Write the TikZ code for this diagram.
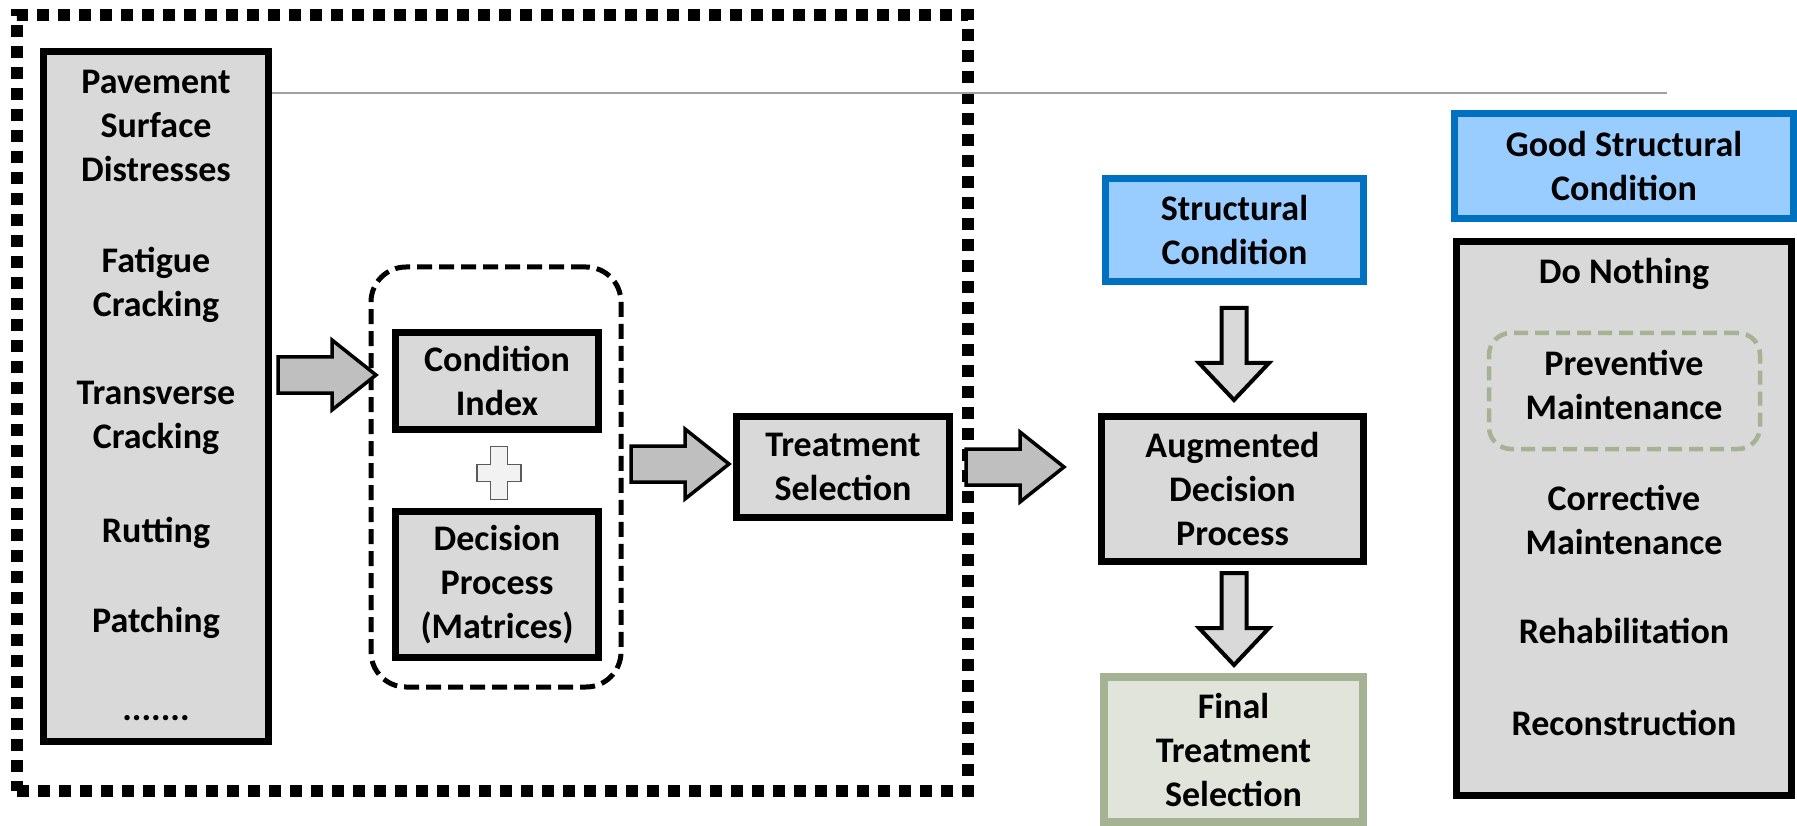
\documentclass[tikz,border=0pt]{standalone}
\usepackage{fontspec}
\setmainfont{Carlito}
\definecolor{boxgray}{RGB}{217,217,217}
\definecolor{arrgray}{RGB}{191,191,191}
\definecolor{lblue}{RGB}{153,204,255}
\definecolor{dblue}{RGB}{0,112,192}
\definecolor{gfill}{RGB}{224,228,218}
\definecolor{gborder}{RGB}{166,178,148}
\definecolor{lgray}{RGB}{160,160,160}
\definecolor{plusline}{RGB}{90,90,90}
\definecolor{plusfill}{RGB}{242,242,242}
\tikzset{
  txt/.style={font=\fontsize{36}{44}\selectfont\bfseries, align=center, inner sep=0pt},
  graybox/.style={txt, draw=black, line width=7pt, fill=boxgray, rectangle},
  bluebox/.style={txt, draw=dblue, line width=7pt, fill=lblue, rectangle},
  greenbox/.style={txt, draw=gborder, line width=8pt, fill=gfill, rectangle},
  grpbox/.style={draw=black, line width=5pt, dash pattern=on 15pt off 7pt, rounded corners=35pt, rectangle, inner sep=0pt},
  prevbox/.style={draw=gborder, line width=4.5pt, dash pattern=on 14pt off 7pt, rounded corners=22pt, rectangle, inner sep=0pt},
  outerbox/.style={draw=black, line width=12pt, dash pattern=on 12pt off 9pt, rectangle, inner sep=0pt},
  rarr/.pic={\draw[line width=3.5pt, fill=arrgray, line join=miter, miter limit=10]
     (-49,-18) -- (5,-18) -- (5,-35) -- (49,0) -- (5,35) -- (5,18) -- (-49,18) -- cycle;},
  darr/.pic={\draw[line width=4pt, fill=boxgray, line join=miter, miter limit=10]
     (-12.5,-46) -- (12.5,-46) -- (12.5,9) -- (35,9) -- (0,46) -- (-35,9) -- (-12.5,9) -- cycle;},
  plussign/.pic={\draw[line width=1.8pt, draw=plusline, fill=plusfill]
     (-8.5,-26.5) -- (8.5,-26.5) -- (8.5,-8.5) -- (22,-8.5) -- (22,8.5) -- (8.5,8.5) -- (8.5,26.5)
     -- (-8.5,26.5) -- (-8.5,8.5) -- (-22,8.5) -- (-22,-8.5) -- (-8.5,-8.5) -- cycle;}
}
\begin{document}
\begin{tikzpicture}[x=1pt, y=-1pt]
\useasboundingbox (0,0) rectangle (1797,826);
\fill[white] (0,0) rectangle (1797,826);

% outer dotted frame
\node[outerbox, minimum width=951pt, minimum height=776pt] (outer) at (492.5,403) {};

% left column box
\node[graybox, minimum width=225pt, minimum height=690pt] (pav) at (156,396.5) {};
\node[txt] (p1) at (156,126) {Pavement\\Surface\\Distresses};
\node[txt] (p2) at (156,285) {Fatigue\\Cracking};
\node[txt] (p3) at (156,418) {Transverse\\Cracking};
\node[txt] (p4) at (156,533) {Rutting};
\node[txt] (p5) at (156,623) {Patching};
\node[txt, anchor=base] (p6) at (156,720) {.......};

% grey line
\coordinate (lineend) at (1667,93);
\draw[lgray, line width=2pt] (pav.east |- lineend) -- (lineend);

% dashed group
\node[grpbox, minimum width=250pt, minimum height=420pt] (grp) at (496,477) {};
\node[graybox, minimum width=203pt, minimum height=97pt] (cond) at (497,381) {Condition\\Index};
\node[graybox, minimum width=203pt, minimum height=146pt] (dec) at (497,584.5) {Decision\\Process\\(Matrices)};
\pic at (499,473) {plussign};

% treatment selection
\node[graybox, minimum width=213pt, minimum height=101pt] (treat) at (843,467) {Treatment\\Selection};

% block arrows
\pic at (327,375) {rarr};
\pic at (680,464) {rarr};
\pic at (1015,467) {rarr};

% middle column
\node[bluebox, minimum width=258pt, minimum height=103pt] (struct) at (1234.5,230) {Structural\\Condition};
\node[graybox, minimum width=262pt, minimum height=145pt] (aug) at (1232.5,489) {Augmented\\Decision\\Process};
\node[greenbox, minimum width=259pt, minimum height=145pt] (final) at (1233.5,749.5) {Final\\Treatment\\Selection};
\pic at (1234,354) {darr};
\pic at (1234,619) {darr};

% right column
\node[bluebox, minimum width=339pt, minimum height=105pt] (good) at (1624,166) {Good Structural\\Condition};
\node[graybox, minimum width=335pt, minimum height=554pt] (opts) at (1624,518.5) {};
\node[prevbox, minimum width=271pt, minimum height=116pt] (prev) at (1624.5,391) {};
\node[txt] (o1) at (1624,274) {Do Nothing};
\node[txt] (o2) at (1624,385) {Preventive\\Maintenance};
\node[txt] (o3) at (1624,520) {Corrective\\Maintenance};
\node[txt] (o4) at (1624,631) {Rehabilitation};
\node[txt] (o5) at (1624,723) {Reconstruction};
\end{tikzpicture}
\end{document}
